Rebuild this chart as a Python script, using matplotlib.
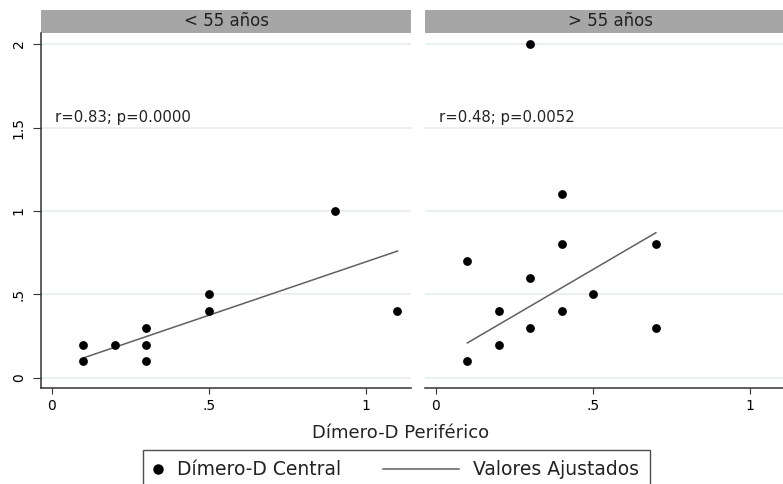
import matplotlib
matplotlib.use("Agg")
import matplotlib.pyplot as plt
from matplotlib.patches import Rectangle
from matplotlib.lines import Line2D
from matplotlib.legend_handler import HandlerLine2D

plt.rcParams['font.family'] = ['DejaVu Sans']

# ---- data ----
panel_titles = ["< 55 años", "> 55 años"]
annotations = ["r=0.83; p=0.0000", "r=0.48; p=0.0052"]

left_x = [0.1, 0.1, 0.2, 0.3, 0.3, 0.3, 0.5, 0.5, 0.9, 1.1]
left_y = [0.1, 0.2, 0.2, 0.1, 0.2, 0.3, 0.4, 0.5, 1.0, 0.4]
left_fit_x = [0.1, 1.1]
left_fit_y = [0.12, 0.76]

right_x = [0.3, 0.4, 0.4, 0.7, 0.1, 0.3, 0.5, 0.2, 0.4, 0.3, 0.7, 0.2, 0.1]
right_y = [2.0, 1.1, 0.8, 0.8, 0.7, 0.6, 0.5, 0.4, 0.4, 0.3, 0.3, 0.2, 0.1]
right_fit_x = [0.1, 0.7]
right_fit_y = [0.21, 0.87]

x_ticks = [0, 0.5, 1]
x_tick_labels = ["0", ".5", "1"]
y_ticks = [0, 0.5, 1, 1.5, 2]
y_tick_labels = ["0", ".5", "1", "1.5", "2"]

xlabel = "Dímero-D Periférico"
legend_labels = ["Dímero-D Central", "Valores Ajustados"]

# ---- figure ----
W, H = 783, 484
fig = plt.figure(figsize=(W / 100, H / 100), dpi=100)
fig.patch.set_facecolor("white")


def px_axes(x0, x1, ytop, ybot):
    return fig.add_axes([x0 / W, 1 - ybot / H, (x1 - x0) / W, (ybot - ytop) / H])


ax_l = px_axes(41, 411, 33, 388)
ax_r = px_axes(425, 795, 33, 388)

strip_h = 23 / 355
panels = [
    (ax_l, left_x, left_y, left_fit_x, left_fit_y),
    (ax_r, right_x, right_y, right_fit_x, right_fit_y),
]
for i, (ax, xs, ys, fx, fy) in enumerate(panels):
    ax.set_xlim(-0.035, 1.143)
    ax.set_ylim(-0.06, 2.066)
    ax.set_facecolor("white")
    for yt in y_ticks:
        ax.axhline(yt, color="#e6eef0", lw=1.2, zorder=0)
    ax.plot(fx, fy, color="#606060", lw=1.1, zorder=2)
    ax.scatter(xs, ys, s=40, color="black", zorder=3, linewidths=0)
    ax.set_xticks(x_ticks)
    ax.set_xticklabels(x_tick_labels, fontsize=10)
    ax.tick_params(axis="x", length=4, width=0.8, pad=4, color="#333333")
    ax.spines["top"].set_visible(False)
    ax.spines["right"].set_visible(False)
    ax.spines["bottom"].set_linewidth(1.1)
    ax.spines["bottom"].set_color("#333333")
    if i == 0:
        ax.set_yticks(y_ticks)
        ax.set_yticklabels(y_tick_labels, fontsize=10, rotation=90, va="center")
        ax.tick_params(axis="y", length=6, width=0.8, pad=5, color="#333333")
        ax.spines["left"].set_linewidth(1.1)
        ax.spines["left"].set_color("#333333")
    else:
        ax.set_yticks([])
        ax.spines["left"].set_visible(False)
    # strip
    ax.add_patch(Rectangle((0, 1), 1, strip_h, transform=ax.transAxes,
                           facecolor="#a6a6a6", edgecolor="none", clip_on=False))
    ax.text(0.5, 1 + strip_h / 2, panel_titles[i], transform=ax.transAxes,
            ha="center", va="center", fontsize=12, color="#222222")
    ax.text(0.008, 1.56, annotations[i], ha="left", va="center",
            fontsize=10.7, color="#222222")

fig.text(401 / W, 1 - 433 / H, xlabel, ha="center", va="center",
         fontsize=13, color="#222222")


class LongLineHandler(HandlerLine2D):
    def __init__(self, extra, **kw):
        super().__init__(**kw)
        self.extra = extra

    def create_artists(self, legend, orig_handle, xdescent, ydescent, width,
                       height, fontsize, trans):
        return super().create_artists(legend, orig_handle, xdescent + self.extra,
                                      ydescent, width + self.extra, height,
                                      fontsize, trans)


h_marker = Line2D([], [], marker="o", color="black", linestyle="none", markersize=6.5)
h_line = Line2D([], [], color="#606060", lw=1.1)
leg = fig.legend([h_marker, h_line], legend_labels, ncol=2,
                 loc="upper left", bbox_to_anchor=(143 / W, 1 - 450 / H),
                 bbox_transform=fig.transFigure, borderaxespad=0,
                 frameon=True, fancybox=False, fontsize=13.5,
                 handlelength=0.48, handletextpad=0.78, columnspacing=5.8,
                 borderpad=0.55, numpoints=1,
                 handler_map={h_line: LongLineHandler(48)})
leg.get_frame().set_edgecolor("#222222")
leg.get_frame().set_linewidth(1.0)
for t in leg.get_texts():
    t.set_color("#222222")

fig.savefig("out.png", dpi=100)
